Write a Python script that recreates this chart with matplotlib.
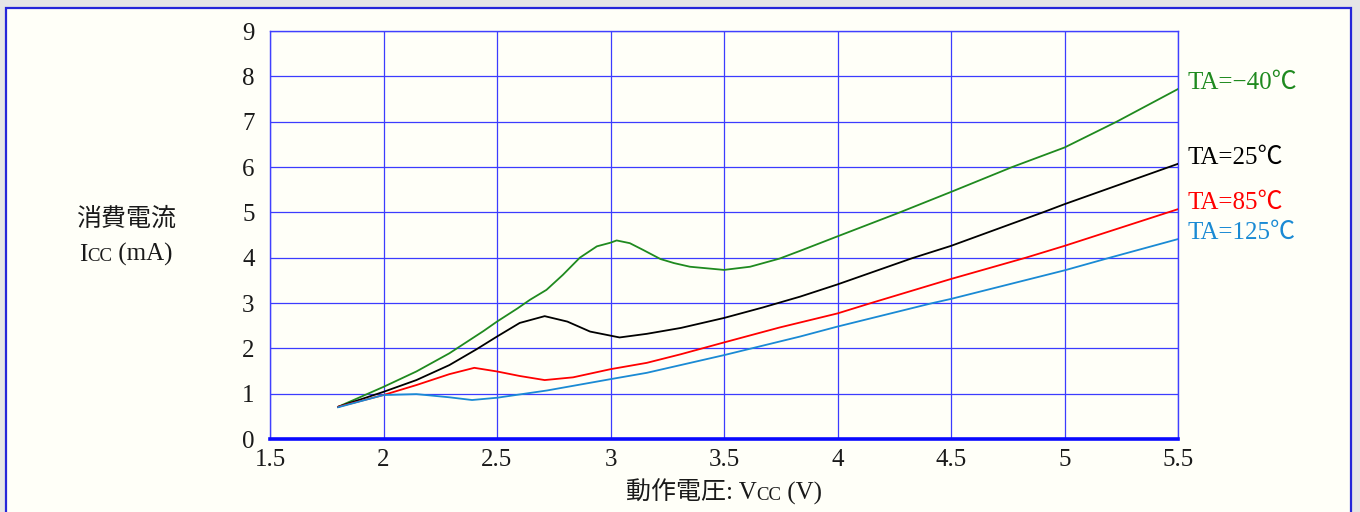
import matplotlib
matplotlib.use("Agg")
import matplotlib.pyplot as plt
import matplotlib.transforms as mtransforms
from matplotlib.patches import Rectangle

plt.rcParams['font.family'] = ['Liberation Serif', 'Noto Sans CJK JP', 'DejaVu Sans']

# ---- data ----
vcc_m40 = [1.80, 1.90, 2.00, 2.145, 2.29, 2.44, 2.50, 2.59, 2.645, 2.718, 2.79, 2.865, 2.94,
           3.00, 3.027, 3.085, 3.144, 3.22, 3.28, 3.35, 3.50, 3.615, 3.745, 3.835, 4.00, 4.27,
           4.50, 4.77, 5.00, 5.23, 5.50]
icc_m40 = [0.71, 0.93, 1.15, 1.49, 1.89, 2.38, 2.59, 2.88, 3.07, 3.29, 3.62, 4.00, 4.25,
           4.33, 4.38, 4.32, 4.17, 3.97, 3.88, 3.80, 3.73, 3.80, 3.98, 4.15, 4.47, 4.99,
           5.45, 6.00, 6.43, 7.00, 7.72]

vcc_25 = [1.80, 2.00, 2.145, 2.29, 2.41, 2.50, 2.60, 2.71, 2.81, 2.91, 3.04, 3.16, 3.31, 3.50,
          3.67, 3.835, 4.00, 4.33, 4.50, 4.905, 5.00, 5.50]
icc_25 = [0.71, 1.04, 1.30, 1.63, 1.98, 2.26, 2.56, 2.71, 2.59, 2.37, 2.24, 2.32, 2.45, 2.67,
          2.90, 3.14, 3.41, 3.99, 4.26, 5.00, 5.18, 6.07]

vcc_85 = [1.80, 2.00, 2.145, 2.29, 2.40, 2.50, 2.60, 2.71, 2.835, 3.00, 3.16, 3.31, 3.50, 3.745,
          4.00, 4.155, 4.50, 4.83, 5.00, 5.50]
icc_85 = [0.71, 0.97, 1.19, 1.43, 1.57, 1.49, 1.39, 1.30, 1.36, 1.54, 1.68, 1.87, 2.13, 2.46,
          2.77, 3.01, 3.53, 4.00, 4.26, 5.07]

vcc_125 = [1.80, 2.00, 2.145, 2.29, 2.39, 2.50, 2.72, 3.00, 3.16, 3.50, 3.745, 3.835, 4.00, 4.42,
           4.50, 5.00, 5.20, 5.50]
icc_125 = [0.70, 0.97, 0.99, 0.92, 0.86, 0.91, 1.07, 1.32, 1.46, 1.85, 2.15, 2.26, 2.48, 3.00,
           3.09, 3.72, 4.00, 4.41]

series_labels = ['TA=−40℃', 'TA=25℃', 'TA=85℃', 'TA=125℃']
series_colors = ['#1f8a1f', '#000000', '#ff0000', '#1a8ad4']

x_ticks = [1.5, 2.0, 2.5, 3.0, 3.5, 4.0, 4.5, 5.0, 5.5]
x_tick_labels = ['1.5', '2', '2.5', '3', '3.5', '4', '4.5', '5', '5.5']
y_ticks = [0, 1, 2, 3, 4, 5, 6, 7, 8, 9]
y_tick_labels = [str(v) for v in y_ticks]

# ---- figure ----
W, H = 1360, 512
fig = plt.figure(figsize=(W / 100, H / 100), dpi=100, facecolor='#e6e6e6')

panel = Rectangle((5.5 / W, -0.1), (1351 - 5.5) / W, 1 - 8 / H + 0.1,
                  transform=fig.transFigure, facecolor='#fffff8', edgecolor='#2626d9',
                  linewidth=1.6, zorder=0)
fig.add_artist(panel)

ax = fig.add_axes([270 / W, 1 - 439 / H, 908 / W, 408 / H])
ax.set_facecolor('#fffff8')
ax.set_xlim(1.5, 5.5)
ax.set_ylim(0, 9)
ax.set_xticks(x_ticks)
ax.set_xticklabels(x_tick_labels)
ax.set_yticks(y_ticks)
ax.set_yticklabels(y_tick_labels)
ax.tick_params(axis='both', length=0, labelsize=18, colors='#1a1a1a')
ax.tick_params(axis='x', pad=7)
ax.tick_params(axis='y', pad=11)
ax.set_axisbelow(True)
ax.grid(True, color='#3c3cff', linewidth=0.9)
for side in ['left', 'top', 'right']:
    ax.spines[side].set_color('#4040ff')
    ax.spines[side].set_linewidth(1.0)
ax.spines['bottom'].set_color('#0a0aff')
ax.spines['bottom'].set_linewidth(2.6)

all_x = [vcc_m40, vcc_25, vcc_85, vcc_125]
all_y = [icc_m40, icc_25, icc_85, icc_125]
for xs, ys, lab, col in zip(all_x, all_y, series_labels, series_colors):
    ax.plot(xs, ys, color=col, linewidth=1.3, zorder=3, solid_joinstyle='round')
    ax.annotate(lab, xy=(xs[-1], ys[-1]), xytext=(6.5, 4.5), textcoords='offset points',
                ha='left', va='center', fontsize=18, color=col, annotation_clip=False)

# ---- composite labels with small-caps "CC" ----
renderer = fig.canvas.get_renderer()
ident = mtransforms.IdentityTransform()


def rich_text(cx_px, base_px_from_top, parts, color='#1a1a1a'):
    texts = []
    widths = []
    for s, size in parts:
        t = fig.text(0, 0, s, fontsize=size, ha='left', va='baseline', color=color,
                     transform=ident)
        widths.append(t.get_window_extent(renderer).width)
        texts.append(t)
    total = sum(widths)
    x = cx_px - total / 2
    y = H - base_px_from_top
    for t, w in zip(texts, widths):
        t.set_position((x, y))
        x += w


rich_text(126, 226, [('消費電流', 18)])
rich_text(126, 261, [('I', 18), ('CC', 13.5), (' (mA)', 18)])
rich_text(724, 500, [('動作電圧: V', 18), ('CC', 13.5), (' (V)', 18)])

fig.savefig('out.png', dpi=100, facecolor=fig.get_facecolor())
